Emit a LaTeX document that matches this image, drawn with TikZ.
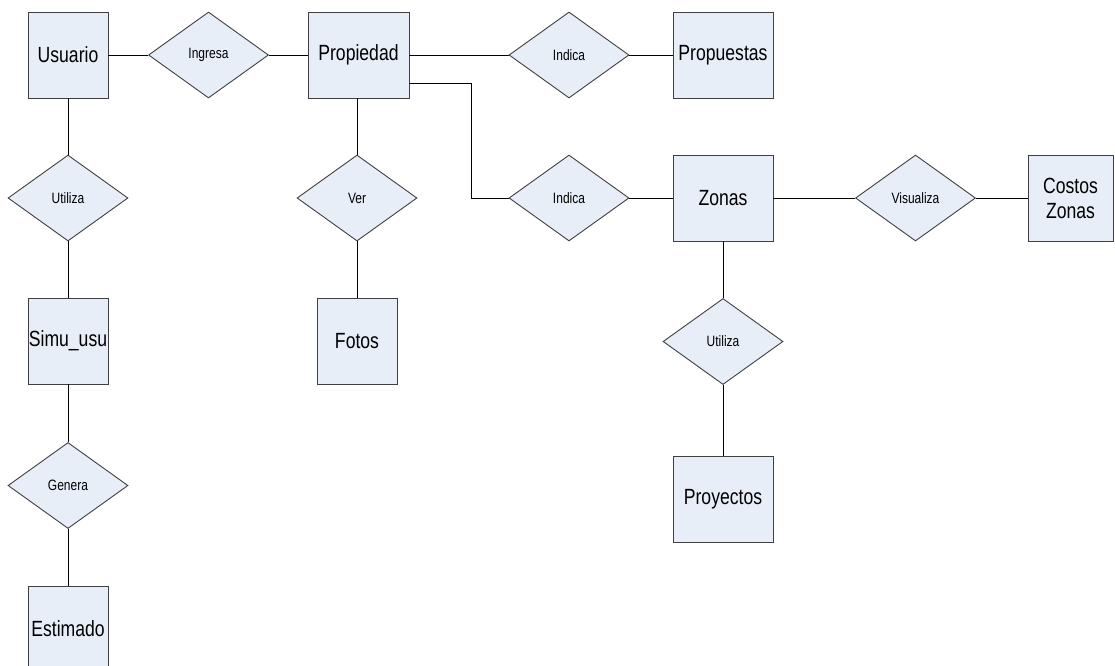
\documentclass[tikz,border=0pt]{standalone}
\usepackage{fontspec}
\setmainfont{Liberation Sans}[FakeStretch=0.8]
\usetikzlibrary{shapes.geometric}
\definecolor{erfill}{HTML}{E8EEF8}
\definecolor{erborder}{HTML}{404040}
\tikzset{
  entity/.style={draw=erborder, fill=erfill, line width=0.9pt, rectangle, inner sep=0pt,
    minimum width=#1, minimum height=86pt, font=\fontsize{22}{25}\selectfont, align=center},
  entity/.default=80pt,
  relation/.style={draw=erborder, fill=erfill, line width=0.9pt, diamond, inner sep=0pt,
    minimum width=120pt, minimum height=86pt, font=\fontsize{15}{18}\selectfont},
  link/.style={draw=black, line width=0.9pt}
}
\begin{document}
\begin{tikzpicture}[x=1pt,y=-1pt]
\useasboundingbox (0,0) rectangle (1115,665);
\clip (0,0) rectangle (1115,665);
% entities
\node[entity=80pt]  (usuario)   at (68,55)     {Usuario};
\node[entity=101pt] (propiedad) at (358.5,55)  {Propiedad};
\node[entity=100pt] (propuestas) at (723,55)   {Propuestas};
\node[entity=100pt] (zonas)     at (723,198)   {Zonas};
\node[entity=85pt]  (costos)    at (1070.5,198) {Costos\\Zonas};
\node[entity=80pt]  (simu)      at (68,341)    {Simu\_usu};
\node[entity=80pt]  (estimado)  at (68,629)    {Estimado};
\node[entity=80pt]  (fotos)     at (357,341.5) {Fotos};
\node[entity=100pt] (proyectos) at (723,499)   {Proyectos};
% relations
\node[relation] (ingresa)   at (208.5,55)  {Ingresa};
\node[relation] (indica1)   at (569,55)    {Indica};
\node[relation] (indica2)   at (569,198)   {Indica};
\node[relation] (visualiza) at (915.5,198) {Visualiza};
\node[relation] (utiliza1)  at (68,198)    {Utiliza};
\node[relation] (genera)    at (68,485.5)  {Genera};
\node[relation] (ver)       at (357,198)   {Ver};
\node[relation] (utiliza2)  at (723,341.5) {Utiliza};
\coordinate (bend) at (471,83);
% connectors
\draw[link] (usuario.east) -- (ingresa.west);
\draw[link] (ingresa.east) -- (propiedad.west);
\draw[link] (propiedad.east) -- (indica1.west);
\draw[link] (indica1.east) -- (propuestas.west);
\draw[link] (propiedad.east |- bend) -- (bend) |- (indica2.west);
\draw[link] (indica2.east) -- (zonas.west);
\draw[link] (zonas.east) -- (visualiza.west);
\draw[link] (visualiza.east) -- (costos.west);
\draw[link] (usuario.south) -- (utiliza1.north);
\draw[link] (utiliza1.south) -- (simu.north);
\draw[link] (simu.south) -- (genera.north);
\draw[link] (genera.south) -- (estimado.north);
\draw[link] (propiedad.south -| ver.north) -- (ver.north);
\draw[link] (ver.south) -- (fotos.north);
\draw[link] (zonas.south) -- (utiliza2.north);
\draw[link] (utiliza2.south) -- (proyectos.north);
\end{tikzpicture}
\end{document}
